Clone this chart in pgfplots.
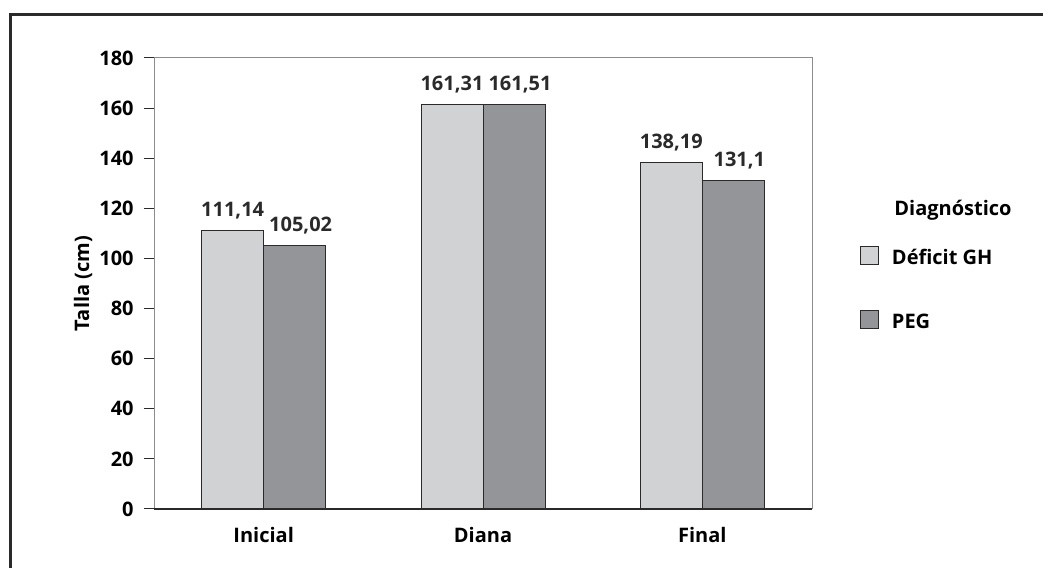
\documentclass[border=0pt]{standalone}
\usepackage{fontspec}
\setmainfont{Open Sans}
\usepackage{pgfplots}
\pgfplotsset{compat=1.18}

\definecolor{barlight}{HTML}{D1D2D4}
\definecolor{bardark}{HTML}{939598}
\definecolor{ink}{HTML}{2B2A2B}
\definecolor{axisgray}{HTML}{8C8C8C}

\pgfplotstableread{
x  deficit  peg
0  111.14   105.02
1  161.31   161.51
2  138.19   131.1
}\talla

\newcommand{\lbl}{\bfseries\fontsize{10}{12}\selectfont}

\begin{document}
\begin{tikzpicture}[font=\lbl]
% 1 px of the reference = 0.5pt
\useasboundingbox (0,0) rectangle (521.5pt,283.5pt);
\draw[ink, line width=1.4pt] (5.3pt,-3pt) -- (5.3pt,276.2pt) -- (525pt,276.2pt);

\begin{axis}[
    at={(77pt,29pt)}, anchor=south west,
    scale only axis, width=329pt, height=225.5pt,
    clip=false,
    xmin=-0.5, xmax=2.5, ymin=0, ymax=180,
    ybar=0pt, bar width=0.2827,
    axis line style={axisgray, line width=0.5pt},
    xtick={0,1,2}, xticklabels={Inicial,Diana,Final},
    x tick style={draw=none},
    extra x ticks={-0.5,0.5,1.5,2.5}, extra x tick labels={},
    extra x tick style={xtick pos=lower, tick align=outside,
        major tick length=6.5pt, tick style={axisgray, line width=0.6pt}},
    xticklabel style={anchor=base, inner sep=0pt, yshift=-11.5pt, font=\lbl},
    ytick={0,20,...,180},
    ytick pos=left, y tick style={ink, line width=0.5pt},
    tick align=outside, major tick length=5pt,
    yticklabel style={anchor=east, inner sep=0pt, xshift=-5pt, font=\lbl},
    /pgf/number format/assume math mode=true,
    ylabel={Talla (cm)},
    every axis y label/.style={at={(rel axis cs:-0.0987,0.5)}, rotate=90,
        anchor=base, inner sep=0pt, font=\lbl},
    nodes near coords,
    nodes near coords style={/pgf/number format/use comma,
        /pgf/number format/fixed, /pgf/number format/precision=2},
    every node near coord/.append style={anchor=base, inner sep=0pt, yshift=7pt,
        font=\lbl, text=ink},
    legend style={draw=none, fill=none, inner sep=0pt, outer sep=0pt,
        at={(rel axis cs:1.0729,0.5838)}, anchor=north west,
        row sep=22.85pt, column sep=6.5pt,
        nodes={inner sep=0pt, text height=9pt, text depth=0pt, font=\lbl}},
    legend cell align=left,
    legend image code/.code={\draw[#1, line width=0.5pt] (0pt,-4.5pt) rectangle (9pt,4.5pt);},
]
\addplot[fill=barlight, draw=ink, line width=0.5pt] table[x=x, y=deficit] {\talla};
\addlegendentry{Déficit GH}
\addplot[fill=bardark, draw=ink, line width=0.5pt,
    every node near coord/.append style={xshift=3pt}] table[x=x, y=peg] {\talla};
\addlegendentry{PEG}
\draw[ink, line width=0.6pt] (rel axis cs:0,0) -- (rel axis cs:1,0);
\node[anchor=base west, inner sep=0pt, font=\lbl] at (rel axis cs:1.1246,0.6497) {Diagnóstico};
\end{axis}
\end{tikzpicture}
\end{document}
